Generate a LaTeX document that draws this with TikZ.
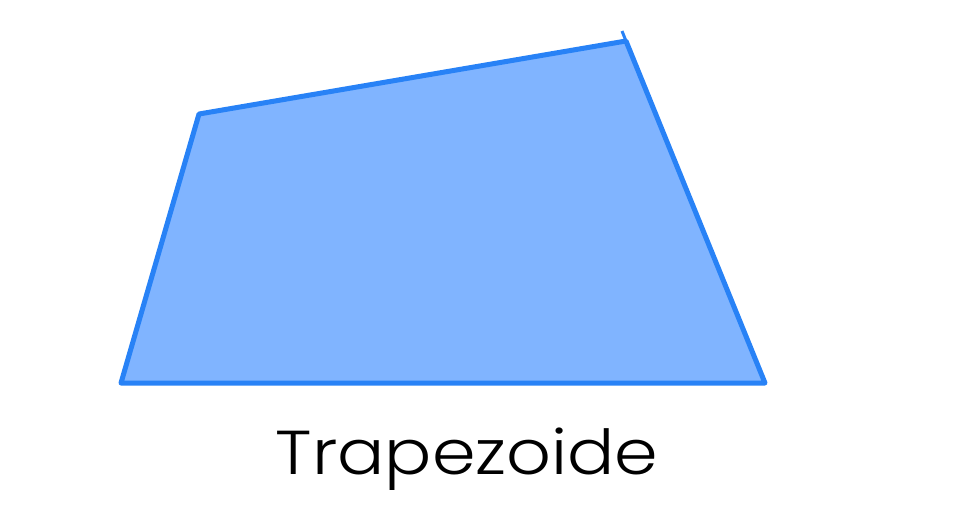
\documentclass[tikz,border=0pt]{standalone}
\usepackage{fontspec}
\setmainfont{Poppins Light}
\definecolor{edge}{HTML}{2882F6}
\definecolor{face}{HTML}{80B4FF}
\tikzset{trap/.style={draw=edge, fill=face, line width=5pt, line join=round},
  label/.style={font=\fontsize{62}{70}\selectfont, text=black, inner sep=0pt, anchor=base, xscale=1.13}}
\begin{document}
\begin{tikzpicture}[x=1pt,y=-1pt]
\useasboundingbox (0,0) rectangle (961,520);
\coordinate (bl) at (121,383);
\coordinate (tl) at (199,114);
\coordinate (tr) at (626,41);
\coordinate (br) at (765,383);
\coordinate (tick) at (622,31);
\draw[trap] (bl) -- (tl) -- (tr) -- (br) -- cycle;
\draw[edge, line width=3pt] (tr) -- (tick);
\node[label] (t) at (467,474) {Trapezoide};
\end{tikzpicture}
\end{document}
